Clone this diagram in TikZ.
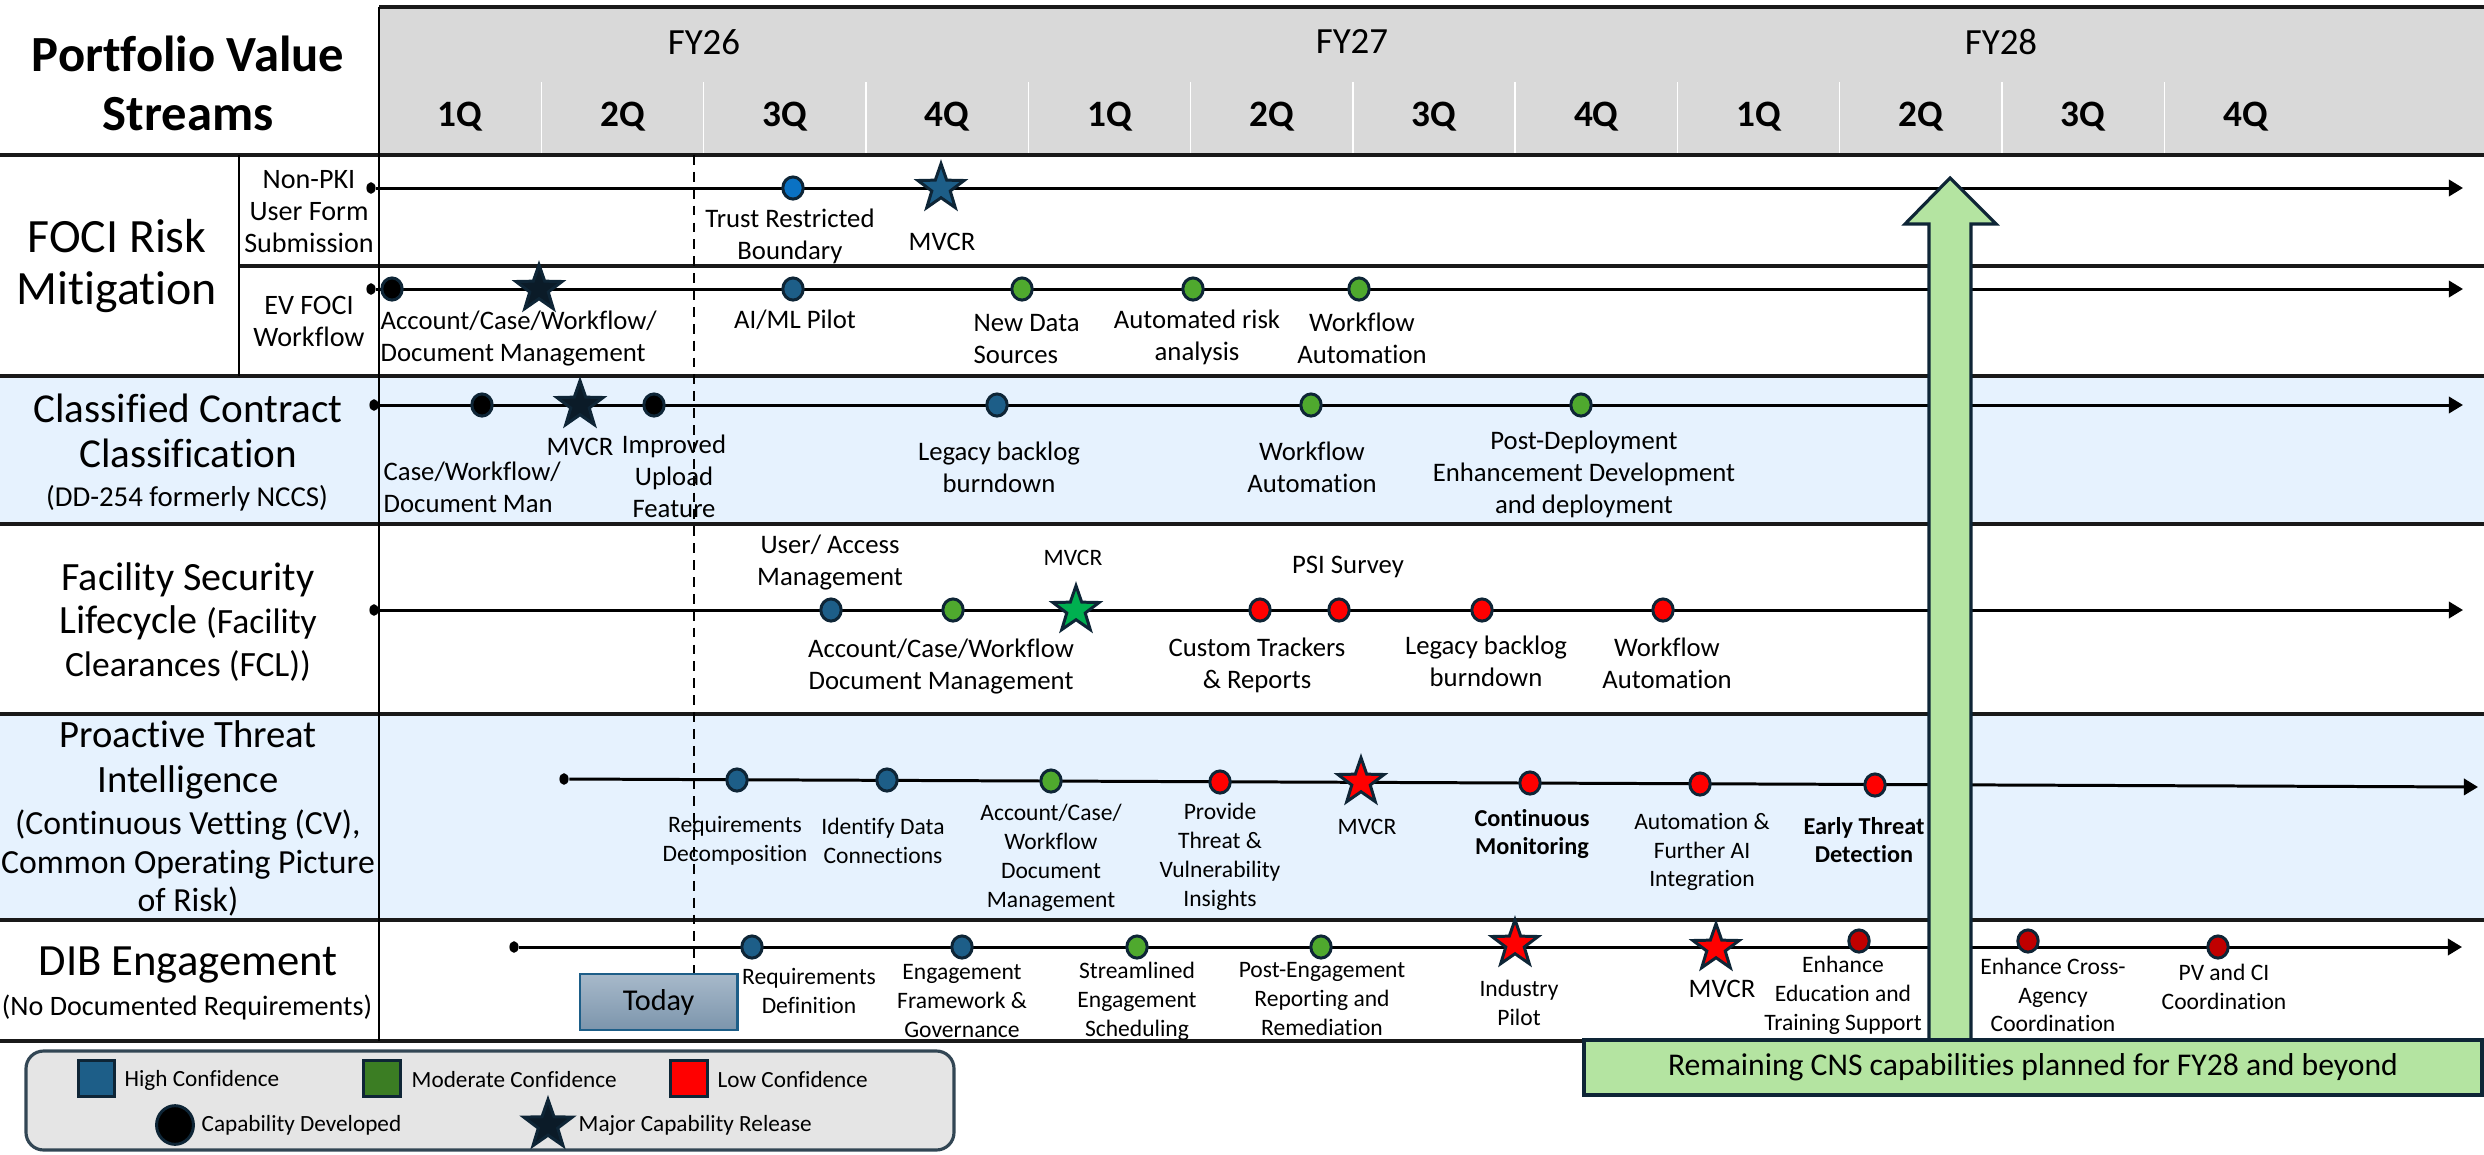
\documentclass[tikz,border=0pt]{standalone}
\usepackage{fontspec}
\setmainfont{Carlito}[Ligatures=NoCommon]
\usetikzlibrary{shapes.geometric,arrows.meta}

\definecolor{hdrgray}{HTML}{D9D9D9}
\definecolor{rowblue}{HTML}{E6F2FE}
\definecolor{navy}{HTML}{0E2536}
\definecolor{hiblue}{HTML}{1D5E88}
\definecolor{brightblue}{HTML}{0A72C4}
\definecolor{modgreen}{HTML}{4FA92E}
\definecolor{lggreen}{HTML}{3B7D23}
\definecolor{lowred}{HTML}{FF0000}
\definecolor{darkred}{HTML}{C00000}
\definecolor{stardark}{HTML}{0B1B28}
\definecolor{stargreen}{HTML}{00B050}
\definecolor{cnsgreen}{HTML}{B4E4A1}
\definecolor{legendgray}{HTML}{E5E5E5}
\definecolor{todaytop}{HTML}{A7B9CA}
\definecolor{todaybot}{HTML}{7C95AC}

\tikzset{
  rowline/.style={line width=1pt, black!90},
  colline/.style={line width=0.7pt, black},
  tline/.style={line width=0.85pt, -{Triangle[length=4pt,width=4.6pt]}},
  nowline/.style={line width=0.7pt, dash pattern=on 2.8pt off 2pt},
  startdot/.style={ellipse, fill=black, minimum width=2.6pt, minimum height=3.3pt, inner sep=0pt},
  dotm/.style={ellipse, draw=navy, line width=0.85pt, fill=#1, minimum width=5.8pt, minimum height=6.3pt, inner sep=0pt},
  starm/.style={star, star points=5, star point ratio=2.5, draw=navy, line width=0.85pt, fill=#1, minimum size=13.8pt, inner sep=0pt},
  lbl/.style={align=center, inner sep=0pt, font=\fontsize{7.6}{9.1}\selectfont},
  slbl/.style={align=center, inner sep=0pt, font=\fontsize{6.7}{8.2}\selectfont},
  sblbl/.style={align=center, inner sep=0pt, font=\bfseries\fontsize{6.9}{8.1}\selectfont},
  title/.style={align=center, inner sep=0pt, font=\bfseries\fontsize{14.4}{16.8}\selectfont},
  fy/.style={inner sep=0pt, font=\fontsize{10.5}{12}\selectfont},
  qtr/.style={inner sep=0pt, font=\bfseries\fontsize{10.6}{12}\selectfont},
  todaybox/.style={rectangle, draw=hiblue, line width=0.8pt, top color=todaytop, bottom color=todaybot,
    minimum width=44.7pt, minimum height=15.9pt, inner sep=0pt, font=\fontsize{8.6}{10}\selectfont},
  cnsbox/.style={rectangle, draw=navy, line width=1.1pt, fill=cnsgreen, minimum width=255.5pt,
    minimum height=15.6pt, inner sep=0pt, font=\fontsize{9}{11}\selectfont},
  lgsq/.style={rectangle, draw=navy, line width=0.85pt, fill=#1, minimum size=10.3pt, inner sep=0pt},
  lgtxt/.style={anchor=west, inner sep=0pt, font=\fontsize{6.6}{8}\selectfont}
}

\begin{document}
\begin{tikzpicture}[x=0.01cm, y=-0.01cm]
\useasboundingbox (0,0) rectangle (2484,1154);

% backgrounds
\fill[hdrgray] (379,7) rectangle (2484,155);
\fill[rowblue] (0,376) rectangle (2484,524);
\fill[rowblue] (0,714) rectangle (2484,920);
\foreach \i in {1,...,11}
  \draw[white, line width=0.4pt] ({379+162.3*\i},82) -- ({379+162.3*\i},155);

% grid
\draw[rowline] (379,7) -- (2484,7);
\foreach \y in {155,376,524,714,920,1041}
  \draw[rowline] (0,\y) -- (2484,\y);
\draw[rowline] (239,266) -- (2484,266);
\draw[colline] (379,7) -- (379,1041);
\draw[colline] (239,155) -- (239,376);

% header
\node[title] (ttl) at (188,83) {Portfolio Value\\Streams};
\node[fy] (fy26) at (704,42) {FY26};
\node[fy] (fy27) at (1352,42) {FY27};
\node[fy] (fy28) at (2001,42) {FY28};
\foreach \q [count=\i from 0] in {1Q,2Q,3Q,4Q,1Q,2Q,3Q,4Q,1Q,2Q,3Q,4Q}
  \node[qtr] (q\i) at ({379+162.3*(\i+0.5)},117) {\q};

% value streams
\node[align=center, inner sep=0pt, font=\fontsize{13.6}{14.8}\selectfont] (foci) at (117,266) {FOCI Risk\\Mitigation};
\node[align=center, inner sep=0pt, font=\fontsize{8}{9.1}\selectfont] (nonpki) at (309,212) {Non-PKI\\User Form\\Submission};
\node[align=center, inner sep=0pt, font=\fontsize{8}{9.1}\selectfont] (evfoci) at (309,321) {EV FOCI\\Workflow};
\node[align=center, inner sep=0pt, font=\fontsize{11.7}{12.8}\selectfont] (ccc) at (188,431) {Classified Contract\\Classification};
\node[inner sep=0pt, font=\fontsize{8.2}{10}\selectfont] (cccsub) at (187,498) {(DD-254 formerly NCCS)};
\node[align=center, inner sep=0pt, font=\fontsize{11.4}{12.2}\selectfont] (fsl) at (188,622)
  {Facility Security\\Lifecycle {\fontsize{10.1}{12}\selectfont(Facility}\\{\fontsize{10.1}{12}\selectfont Clearances (FCL))}};
\node[align=center, inner sep=0pt, font=\fontsize{11}{12.8}\selectfont] (pti) at (188,760) {Proactive Threat\\Intelligence};
\node[align=center, inner sep=0pt, font=\fontsize{9.6}{11}\selectfont] (ptisub) at (188,863) {(Continuous Vetting (CV),\\Common Operating Picture\\of Risk)};
\node[inner sep=0pt, font=\fontsize{12.7}{14}\selectfont] (dib) at (188,965) {DIB Engagement};
\node[inner sep=0pt, font=\fontsize{8}{10}\selectfont] (dibsub) at (187,1007) {(No Documented Requirements)};

% today
\coordinate (now) at (694,155);
\node[todaybox] (today) at (658.5,1002) {Today};
\draw[nowline] (now) -- (now |- today.north);

% Non-PKI user form submission
\node[startdot] (npS) at (371,188) {};
\coordinate (npE) at (2463,188);
\draw[tline] (npS) -- (npE);
\node[dotm=brightblue] (np1) at (793,188) {};
\node[starm=hiblue] (np2) at (941,188) {};
\node[lbl] (np1l) at (790,236) {Trust Restricted\\Boundary};
\node[lbl] (np2l) at (942,242) {MVCR};

% EV FOCI workflow
\node[startdot] (evS) at (371,289) {};
\coordinate (evE) at (2463,289);
\draw[tline] (evS) -- (evE);
\node[dotm=black] (ev1) at (392,289) {};
\node[starm=stardark] (ev2) at (539,289) {};
\node[dotm=hiblue] (ev3) at (793,289) {};
\node[dotm=modgreen] (ev4) at (1022,289) {};
\node[dotm=modgreen] (ev5) at (1193,289) {};
\node[dotm=modgreen] (ev6) at (1359,289) {};
\node[lbl, align=left, anchor=west] (ev2l) at (380,339) {Account/Case/Workflow/\\Document Management};
\node[lbl] (ev3l) at (795,320) {AI/ML Pilot};
\node[lbl, align=left, anchor=west] (ev4l) at (973,339) {New Data\\Sources};
\node[lbl] (ev5l) at (1197,337) {Automated risk\\analysis};
\node[lbl] (ev6l) at (1362,338) {Workflow\\Automation};

% classified contract classification
\node[startdot] (ccS) at (374,405) {};
\coordinate (ccE) at (2463,405);
\draw[tline] (ccS) -- (ccE);
\node[dotm=black] (cc1) at (482,405) {};
\node[starm=stardark] (cc2) at (580,405) {};
\node[dotm=black] (cc3) at (654,405) {};
\node[dotm=hiblue] (cc4) at (997,405) {};
\node[dotm=modgreen] (cc5) at (1311,405) {};
\node[dotm=modgreen] (cc6) at (1581,405) {};
\node[lbl, align=left, anchor=west] (cc1l) at (383,487) {Case/Workflow/\\Document Man};
\node[lbl] (cc2l) at (580,447) {MVCR};
\node[lbl] (cc3l) at (674,476) {Improved\\Upload\\Feature};
\node[lbl] (cc4l) at (999,467) {Legacy backlog\\burndown};
\node[lbl] (cc5l) at (1312,467) {Workflow\\Automation};
\node[lbl] (cc6l) at (1584,474) {Post-Deployment\\Enhancement Development\\and deployment};

% facility security lifecycle
\node[startdot] (fsS) at (374,610) {};
\coordinate (fsE) at (2463,610);
\draw[tline] (fsS) -- (fsE);
\node[dotm=hiblue] (fs1) at (831,610) {};
\node[dotm=modgreen] (fs2) at (953,610) {};
\node[starm=stargreen] (fs3) at (1076,610) {};
\node[dotm=lowred] (fs4) at (1260,610) {};
\node[dotm=lowred] (fs5) at (1339,610) {};
\node[dotm=lowred] (fs6) at (1482,610) {};
\node[dotm=lowred] (fs7) at (1663,610) {};
\node[lbl] (fs1l) at (830,563) {User/ Access\\Management};
\node[slbl] (fs3l) at (1073,558) {MVCR};
\node[lbl] (fs2l) at (941,667) {Account/Case/Workflow\\Document Management};
\node[lbl] (fs4l) at (1257,665) {Custom Trackers\\\& Reports};
\node[lbl] (fs5l) at (1348,567) {PSI Survey};
\node[lbl] (fs6l) at (1486,661) {Legacy backlog\\burndown};
\node[lbl] (fs7l) at (1667,663) {Workflow\\Automation};

% proactive threat intelligence
\node[startdot] (ptS) at (564,779) {};
\coordinate (ptE) at (2478,787);
\draw[tline] (ptS) -- (ptE);
\node[dotm=hiblue] (pt1) at (737,780) {};
\node[dotm=hiblue] (pt2) at (887,780) {};
\node[dotm=modgreen] (pt3) at (1051,781) {};
\node[dotm=lowred] (pt4) at (1220,782) {};
\node[starm=lowred] (pt5) at (1361,782) {};
\node[dotm=lowred] (pt6) at (1530,783) {};
\node[dotm=lowred] (pt7) at (1700,784) {};
\node[dotm=lowred] (pt8) at (1875,785) {};
\node[slbl] (pt1l) at (735,841) {Requirements\\Decomposition};
\node[slbl] (pt2l) at (883,841) {Identify Data\\Connections};
\node[slbl] (pt3l) at (1051,858) {Account/Case/\\Workflow\\Document\\Management};
\node[slbl] (pt4l) at (1220,857) {Provide\\Threat \&\\Vulnerability\\Insights};
\node[slbl] (pt5l) at (1367,827) {MVCR};
\node[sblbl] (pt6l) at (1532,834) {Continuous\\Monitoring};
\node[slbl] (pt7l) at (1702,852) {Automation \&\\Further AI\\Integration};
\node[sblbl] (pt8l) at (1864,840) {Early Threat\\Detection};

% DIB engagement
\node[startdot] (dbS) at (514,947) {};
\coordinate (dbE) at (2462,947);
\draw[tline] (dbS) -- (dbE);
\node[dotm=hiblue] (db1) at (752,947) {};
\node[dotm=hiblue] (db2) at (962,947) {};
\node[dotm=modgreen] (db3) at (1137,947) {};
\node[dotm=modgreen] (db4) at (1321,947) {};
\node[starm=lowred] (db5) at (1515,944) {};
\node[starm=lowred] (db6) at (1716,948) {};
\node[dotm=darkred] (db7) at (1859,941) {};
\node[dotm=darkred] (db8) at (2028,941) {};
\node[dotm=darkred] (db9) at (2218,947) {};
\node[slbl] (db1l) at (809,991) {Requirements\\Definition};
\node[slbl] (db2l) at (962,1001) {Engagement\\Framework \&\\Governance};
\node[slbl] (db3l) at (1137,1001) {Streamlined\\Engagement\\Scheduling};
\node[slbl] (db4l) at (1322,999) {Post-Engagement\\Reporting and\\Remediation};
\node[slbl] (db5l) at (1519,1003) {Industry\\Pilot};
\node[lbl] (db6l) at (1722,989) {MVCR};
\node[slbl] (db7l) at (1843,995) {Enhance\\Education and\\Training Support};
\node[slbl] (db8l) at (2053,995) {Enhance Cross-\\Agency\\Coordination};
\node[slbl] (db9l) at (2224,987) {PV and CI\\Coordination};

% FY28 and beyond
\filldraw[fill=cnsgreen, draw=navy, line width=0.9pt] (1929,1041) -- (1929,224) -- (1905,224) -- (1950,178)
  -- (1996,224) -- (1971,224) -- (1971,1041) -- cycle;
\node[cnsbox] (cns) at (2033,1067.5) {Remaining CNS capabilities planned for FY28 and beyond};

% legend
\draw[fill=legendgray, draw=navy!85, line width=0.9pt, rounded corners=5pt] (26,1051) rectangle (954,1150);
\node[lgsq=hiblue] (lgH) at (96.5,1078.5) {};
\node[lgsq=lggreen] (lgM) at (382,1078.5) {};
\node[lgsq=lowred] (lgL) at (689,1078.5) {};
\node[lgtxt] (lgHt) at (124,1080) {High Confidence};
\node[lgtxt] (lgMt) at (411,1080) {Moderate Confidence};
\node[lgtxt] (lgLt) at (717,1080) {Low Confidence};
\node[ellipse, draw=navy, line width=0.85pt, fill=black, minimum width=10.5pt, minimum height=11pt, inner sep=0pt] (lgC) at (175,1125) {};
\node[starm=stardark, minimum size=14.5pt] (lgS) at (548,1125) {};
\node[lgtxt] (lgCt) at (201,1125) {Capability Developed};
\node[lgtxt] (lgSt) at (578,1125) {Major Capability Release};
\end{tikzpicture}
\end{document}
